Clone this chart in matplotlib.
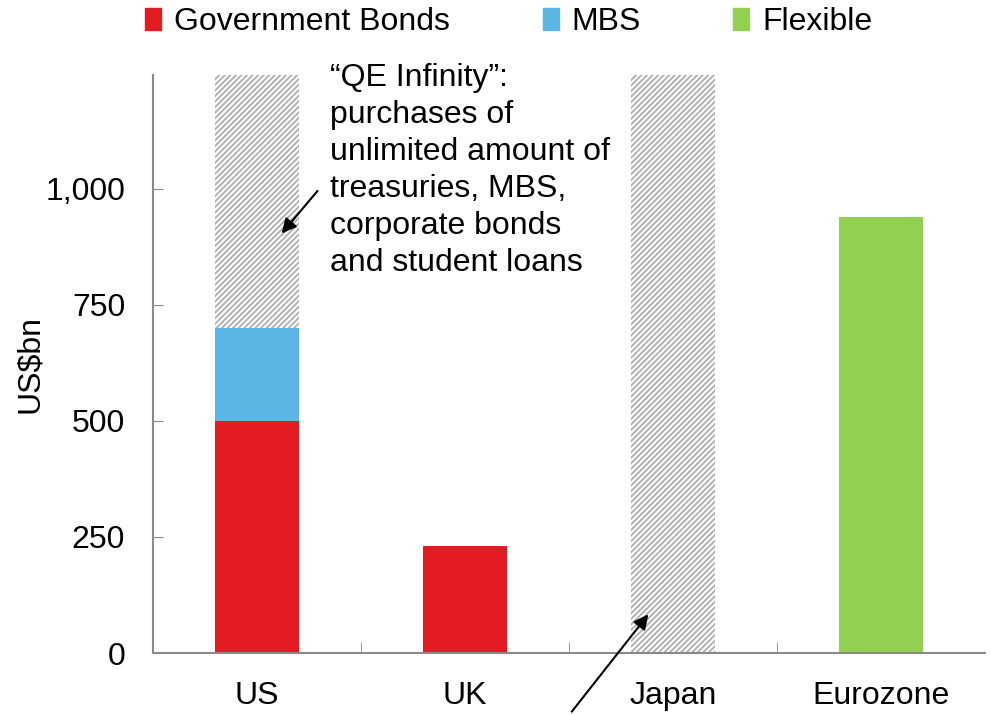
import numpy as np
import matplotlib.pyplot as plt
from matplotlib.patches import Patch

plt.rcParams['font.family'] = ['Liberation Sans', 'DejaVu Sans']
plt.rcParams['hatch.linewidth'] = 1.3

# data
countries = ['US', 'UK', 'Japan', 'Eurozone']
gov_bonds = [500, 230, 0, 0]
mbs = [200, 0, 0, 0]
flexible = [0, 0, 0, 940]
unlimited = [1245, 0, 1245, 0]   # open-ended programmes, drawn to top of axis
y_ticks = [0, 250, 500, 750, 1000]
y_tick_labels = ['0', '250', '500', '750', '1,000']
note_text = '\u201cQE Infinity\u201d:\npurchases of\nunlimited amount of\ntreasuries, MBS,\ncorporate bonds\nand student loans'

red = '#E31B23'
blue = '#5BB5E5'
green = '#92D050'
grey = '#898989'
fs = 23

fig = plt.figure(figsize=(9.9, 7.14), dpi=100)
ax = fig.add_axes([0.1545, 0.0854, 0.8405, 0.8096])

x = np.arange(len(countries))
w = 0.4

# hatched "unlimited" bars
ax.bar(x, unlimited, width=w, color='white', edgecolor='#adadad',
       hatch='//////', linewidth=0, zorder=1)

ax.bar(x, gov_bonds, width=w, color=red, zorder=2)
ax.bar(x, mbs, width=w, bottom=gov_bonds, color=blue, zorder=2)
ax.bar(x, flexible, width=w, color=green, zorder=2)

ax.set_xlim(-0.5, 3.5)
ax.set_ylim(0, 1245)
ax.set_yticks(y_ticks)
ax.set_yticklabels(y_tick_labels)
ax.set_xticks(x)
ax.set_xticklabels(countries)
ax.set_xticks(np.arange(0.5, 3.5, 1), minor=True)
ax.tick_params(axis='x', which='major', length=0, pad=20, labelsize=fs)
ax.tick_params(axis='x', which='minor', direction='in', length=8, color=grey)
ax.tick_params(axis='y', direction='in', length=7, color=grey, labelsize=fs, pad=20)

for s in ['top', 'right']:
    ax.spines[s].set_visible(False)
for s in ['left', 'bottom']:
    ax.spines[s].set_color(grey)
    ax.spines[s].set_linewidth(1.5)

ax.set_ylabel('US$bn', fontsize=fs, labelpad=0)

# annotation text + arrows
ax.text(0.35, 1270, note_text, fontsize=fs, va='top', ha='left',
        linespacing=1.3, clip_on=False)
ax.annotate('', xy=(0.11, 899), xytext=(0.30, 1000),
            arrowprops=dict(arrowstyle='-|>', color='black', lw=1.5,
                            mutation_scale=22), annotation_clip=False)
ax.annotate('', xy=(1.89, 88), xytext=(1.505, -131),
            arrowprops=dict(arrowstyle='-|>', color='black', lw=1.5,
                            mutation_scale=22), annotation_clip=False)

# legend
handles = [Patch(color=red, label='Government Bonds'),
           Patch(color=blue, label='MBS'),
           Patch(color=green, label='Flexible')]
fig.legend(handles=handles, loc='upper center', bbox_to_anchor=(0.514, 1.03),
           ncol=3, frameon=False, fontsize=fs, handlelength=0.5,
           handleheight=0.7, handletextpad=0.4, columnspacing=2.9)

fig.savefig('out.png', dpi=100)
